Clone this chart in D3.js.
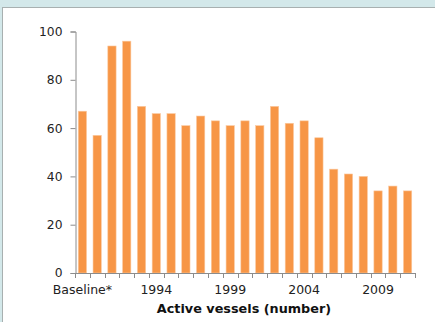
<!DOCTYPE html>
<html>
<head>
<meta charset="utf-8">
<script src="https://cdn.jsdelivr.net/npm/d3@7"></script>
<style>
  body { margin: 0; background: #d3e8ea; }
  svg { display: block; }
</style>
</head>
<body>
<svg id="chart"></svg>
<script>
// categories and values
let categories = ["Baseline*", "1990", "1991", "1992", "1993", "1994", "1995", "1996", "1997", "1998", "1999", "2000",
                  "2001", "2002", "2003", "2004", "2005", "2006", "2007", "2008", "2009", "2010", "2011"]
let vessels = [67, 57, 94, 96, 69, 66, 66, 61, 65, 63, 61, 63, 61, 69, 62, 63, 56, 43, 41, 40, 34, 36, 34]
let y_ticks = [0, 20, 40, 60, 80, 100]
let x_labels = ["Baseline*", "1994", "1999", "2004", "2009"]
let axis_title = "Active vessels (number)"

let width = 435
let height = 322

let svg = d3.select('#chart')
    .attr('width', width)
    .attr('height', height)

// light blue page + white panel with grey border
svg.append('rect')
    .attr('x', 0).attr('y', 0)
    .attr('width', width).attr('height', height)
    .attr('fill', '#d3e8ea')

svg.append('rect')
    .attr('x', 2.5).attr('y', 7.5)
    .attr('width', width).attr('height', height)
    .attr('fill', '#ffffff')
    .attr('stroke', '#a8b0b0')
    .attr('stroke-width', 1)

let x = d3.scaleBand()
    .domain(categories)
    .range([75, 415])
    .paddingInner(0.44)
    .paddingOuter(0.22)

let y = d3.scaleLinear()
    .domain([0, 100])
    .range([273, 31.5])

// bars
svg.append('g')
    .selectAll('rect')
    .data(vessels)
    .enter()
    .append('rect')
    .attr('x', function(d, i){ return x(categories[i]) })
    .attr('y', function(d){ return y(d) })
    .attr('width', x.bandwidth())
    .attr('height', function(d){ return y(0) - y(d) })
    .attr('fill', '#f79646')
    .attr('stroke', '#fbc9a0')
    .attr('stroke-width', 0.6)

// y axis
let y_axis = svg.append('g')
    .attr('transform', 'translate(75.5,0)')
    .call(d3.axisLeft(y).tickValues(y_ticks).tickSize(5).tickPadding(8))
y_axis.select('.domain').attr('stroke', '#8c8c8c')
y_axis.selectAll('.tick line').attr('stroke', '#8c8c8c')
y_axis.selectAll('.tick text')
    .attr('font-family', 'DejaVu Sans, Verdana, sans-serif')
    .attr('font-size', 12.3)
    .attr('fill', '#222')

// x axis: line + tick marks at category boundaries
let x_g = svg.append('g')
x_g.append('line')
    .attr('x1', 75).attr('x2', 415)
    .attr('y1', y(0) + 0.5).attr('y2', y(0) + 0.5)
    .attr('stroke', '#8c8c8c')

let boundaries = categories.map(function(c){ return x(c) - x.step() * x.paddingInner() / 2 })
boundaries.push(415)
x_g.selectAll('line.tick')
    .data(boundaries)
    .enter()
    .append('line')
    .attr('class', 'tick')
    .attr('x1', function(d){ return Math.round(d) + 0.5 })
    .attr('x2', function(d){ return Math.round(d) + 0.5 })
    .attr('y1', y(0))
    .attr('y2', y(0) + 5)
    .attr('stroke', '#8c8c8c')

let label_cats = ["Baseline*", "1994", "1999", "2004", "2009"]
x_g.selectAll('text')
    .data(x_labels)
    .enter()
    .append('text')
    .attr('x', function(d, i){ return x(label_cats[i]) + x.bandwidth() / 2 })
    .attr('y', 294)
    .attr('text-anchor', 'middle')
    .attr('font-family', 'DejaVu Sans, Verdana, sans-serif')
    .attr('font-size', 12.5)
    .attr('fill', '#222')
    .text(function(d){ return d })

svg.append('text')
    .attr('x', 244)
    .attr('y', 313)
    .attr('text-anchor', 'middle')
    .attr('font-family', 'DejaVu Sans, Verdana, sans-serif')
    .attr('font-size', 12.8)
    .attr('font-weight', 'bold')
    .attr('fill', '#111')
    .text(axis_title)
</script>
</body>
</html>
